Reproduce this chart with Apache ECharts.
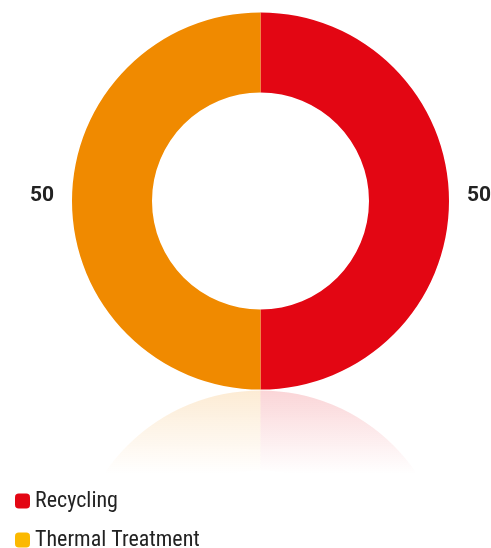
<!DOCTYPE html>
<html><head><meta charset="utf-8">
<script src="https://cdn.jsdelivr.net/npm/echarts@6/dist/echarts.min.js"></script>
<style>html,body{margin:0;padding:0;background:#fff}#c{width:491px;height:548px}</style>
</head><body><div id="c"></div>
<script>
const categories = ['Recycling', 'Thermal Treatment'];
const values = [50, 50];
const sliceColors = ['#E30613', '#F08A00'];
const legendColors = ['#E30613', '#FBB900'];
const reflectRGB = ['227,6,19', '240,138,0'];

const chart = echarts.init(document.getElementById('c'), null, {renderer: 'canvas'});
const cx = 260.5, cy = 201, rOut = 188.5, rIn = 108.5;
const reflCy = 2 * (cy + rOut) - cy + 1;

const mainData = categories.map((n, i) => ({name: n, value: values[i], itemStyle: {color: sliceColors[i]}}));
const reflData = categories.map((n, i) => ({
  name: n, value: values[i],
  itemStyle: {color: new echarts.graphic.LinearGradient(0, cy + rOut + 1, 0, cy + rOut + 84, [
    {offset: 0, color: 'rgba(' + reflectRGB[i] + ',0.17)'},
    {offset: 1, color: 'rgba(' + reflectRGB[i] + ',0)'}
  ], true)}
}));

chart.setOption({
  animation: false,
  legend: {
    orient: 'vertical', left: 10, top: 485, height: 120,
    itemWidth: 15, itemHeight: 15, itemGap: 17, icon: 'roundRect',
    selectedMode: false,
    textStyle: {fontFamily: 'Roboto Condensed, Liberation Sans Narrow, Roboto, Noto Sans', fontSize: 22, color: '#222'},
    data: categories.map((n, i) => ({name: n, itemStyle: {color: legendColors[i]}}))
  },
  series: [
    {
      type: 'pie', silent: true, z: 1,
      center: [cx, reflCy], radius: [rIn, rOut],
      startAngle: 90, clockwise: false,
      label: {show: false}, labelLine: {show: false},
      data: reflData.slice().reverse()
    },
    {
      type: 'pie', z: 2,
      center: [cx, cy], radius: [rIn, rOut],
      startAngle: 90, clockwise: true,
      avoidLabelOverlap: false,
      label: {show: true, position: 'outside', formatter: '{c}', fontSize: 21, fontWeight: 'bold',
        color: '#222', fontFamily: 'Roboto, Noto Sans', offset: [0, -5], overflow: 'none'},
      labelLine: {show: false, length: 13, length2: 0},
      labelLayout: {hideOverlap: false},
      data: mainData
    }
  ]
});
</script></body></html>
